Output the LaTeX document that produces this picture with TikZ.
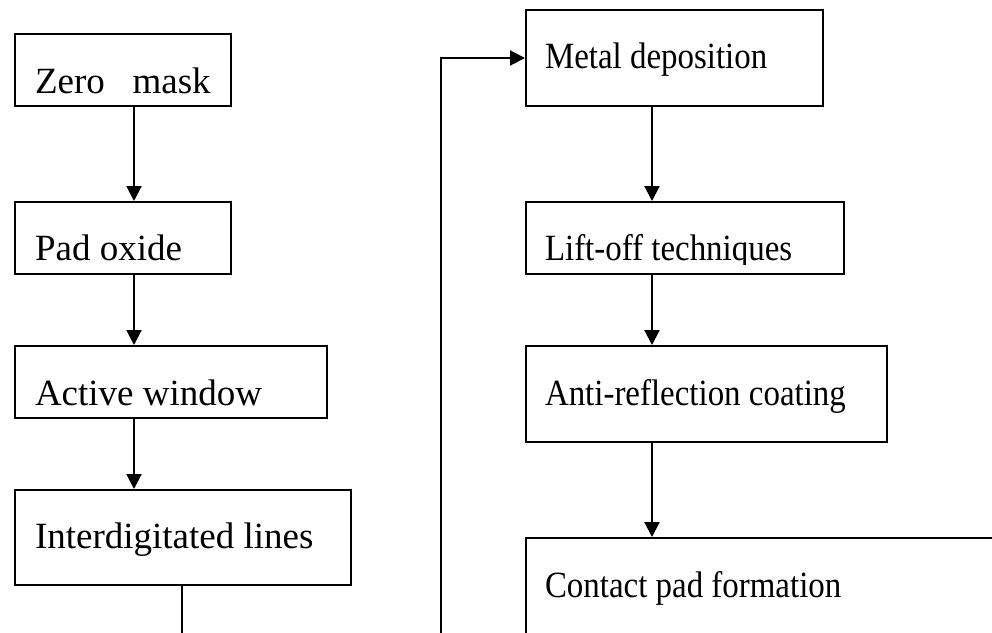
\documentclass[tikz,border=0pt]{standalone}
\usepackage{fontspec}
\setmainfont{Liberation Serif}
\newfontfamily\narrowserif[FakeStretch=0.89]{Liberation Serif}
\usetikzlibrary{arrows.meta, calc}

\begin{document}
\begin{tikzpicture}[x=1pt, y=-1pt, line width=2pt,
	stepbox/.style 2 args={draw, rectangle, anchor=north west, inner sep=0pt, minimum width=#1, minimum height=#2},
	steptext/.style={anchor=base west, inner sep=0pt, font=\fontsize{37}{40}\selectfont},
	narrowtext/.style={steptext, font=\narrowserif\fontsize{37}{40}\selectfont},
	flow/.style={-{Triangle[width=15pt,length=15pt]}}]
% Page frame (the picture is cut at the right and bottom)
\useasboundingbox (0,0) rectangle (992,632);
\clip (0,0) rectangle (992,632);

% Columns of the connectors
\coordinate (lcol) at (134,0);
\coordinate (rcol) at (652,0);

% Left column of steps
\node[stepbox={216}{72}] (zero) at (14,33) {};
\node[stepbox={216}{72}] (pad) at (14,201) {};
\node[stepbox={312}{72}] (active) at (14,345) {};
\node[stepbox={336}{95}] (inter) at (14,489) {};
\node[steptext] (zerotxt) at ($(zero.north west)+(20,60)$) {Zero\ \ \ mask};
\node[steptext] (padtxt) at ($(pad.north west)+(20,59)$) {Pad oxide};
\node[steptext] (activetxt) at ($(active.north west)+(20,60)$) {Active window};
\node[steptext] (intertxt) at ($(inter.north west)+(20,59)$) {Interdigitated lines};

% Right column of steps
\node[stepbox={297}{96}] (metal) at (525,9) {};
\node[stepbox={318}{72}] (lift) at (525,201) {};
\node[stepbox={361}{96}] (anti) at (525,345) {};
\node[stepbox={490}{110}] (contact) at (525,537) {};
\node[narrowtext] (metaltxt) at ($(metal.north west)+(19,59)$) {Metal deposition};
\begin{scope}
	\clip (lift.north west) rectangle ($(lift.south east)+(0,-11)$);
	\node[narrowtext] (lifttxt) at ($(lift.north west)+(19,59)$) {Lift-off techniques};
\end{scope}
\node[narrowtext] (antitxt) at ($(anti.north west)+(19,60)$) {Anti-reflection coating};
\node[narrowtext] (contacttxt) at ($(contact.north west)+(19,60)$) {Contact pad formation};

% Flow down the left column
\draw[flow] (zero.south -| lcol) -- (pad.north -| lcol);
\draw[flow] (pad.south -| lcol) -- (active.north -| lcol);
\draw[flow] (active.south -| lcol) -- (inter.north -| lcol);
\coordinate (interend) at (182,650);
\draw (inter.south -| interend) -- (interend);

% Return line up to the right column
\coordinate (fbstart) at (441,650);
\draw[flow] (fbstart) |- (metal.west);

% Flow down the right column
\draw[flow] (metal.south -| rcol) -- (lift.north -| rcol);
\draw[flow] (lift.south -| rcol) -- (anti.north -| rcol);
\draw[flow] (anti.south -| rcol) -- (contact.north -| rcol);
\end{tikzpicture}
\end{document}
